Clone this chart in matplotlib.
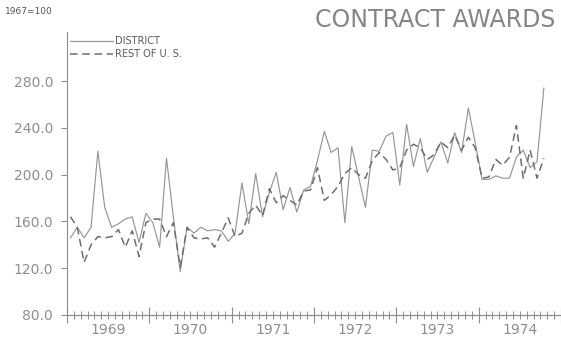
import numpy as np
import matplotlib
matplotlib.use('Agg')
import matplotlib.pyplot as plt

# monthly index values, 1967=100, January 1969 through October 1974
district = [
    146, 155, 146, 155, 220, 172, 155, 158, 162, 164, 142, 167,   # 1969
    159, 138, 214, 164, 117, 155, 150, 155, 152, 153, 152, 143,   # 1970
    150, 193, 158, 201, 164, 185, 202, 170, 189, 168, 187, 190,   # 1971
    212, 237, 219, 223, 159, 224, 198, 172, 221, 220, 233, 236,   # 1972
    191, 243, 207, 231, 202, 215, 228, 210, 236, 219, 257, 227,   # 1973
    196, 196, 199, 197, 197, 215, 221, 206, 211, 274,             # 1974
]
rest_of_us = [
    164, 155, 125, 140, 147, 146, 147, 153, 138, 152, 130, 159,   # 1969
    162, 162, 147, 159, 121, 155, 146, 145, 146, 138, 150, 163,   # 1970
    147, 150, 167, 174, 165, 188, 176, 182, 178, 174, 186, 187,   # 1971
    206, 178, 183, 190, 201, 206, 200, 197, 212, 219, 213, 204,   # 1972
    206, 221, 226, 223, 213, 217, 228, 223, 234, 221, 232, 223,   # 1973
    197, 198, 213, 208, 215, 242, 197, 221, 197, 214,             # 1974
]
years = [1969, 1970, 1971, 1972, 1973, 1974]
year_labels = ['1969', '1970', '1971', '1972', '1973', '1974']
y_ticks = [80, 120, 160, 200, 240, 280]

grey = '#8e8e8e'

# points sit in the middle of each month
t = years[0] + (np.arange(len(district)) + 0.5) / 12

fig = plt.figure(figsize=(5.61, 3.41), dpi=100)
ax = fig.add_axes([67 / 561, 26 / 341, 494 / 561, 283 / 341])

ax.plot(t, district, color='#969696', lw=0.85, label='DISTRICT')
ax.plot(t, rest_of_us, color='#6f6f6f', lw=1.1, dashes=(5, 3),
        label='REST OF U. S.')

ax.set_xlim(years[0], years[-1] + 1)
ax.set_ylim(80, 322)

for side in ['top', 'right']:
    ax.spines[side].set_visible(False)
for side in ['left', 'bottom']:
    ax.spines[side].set_color(grey)
    ax.spines[side].set_linewidth(0.8)

# y axis
ax.set_yticks(y_ticks)
ax.set_yticklabels(['%.1f' % v for v in y_ticks])
ax.tick_params(axis='y', direction='out', length=4, width=0.8,
               colors=grey, labelsize=10, pad=6)

# x axis: year names centred in each year, a cross tick for every month
ax.xaxis.remove_overlapping_locs = False
ax.set_xticks([y + 0.5 for y in years])
ax.set_xticklabels(year_labels)
ax.set_xticks(np.arange(years[0], years[-1] + 1 + 1e-9, 1 / 12), minor=True)
ax.tick_params(axis='x', which='major', length=0, colors=grey,
               labelsize=10, pad=6)
ax.tick_params(axis='x', which='minor', direction='inout', length=6,
               width=0.7, color=grey)

# longer ticks on the year boundaries
sec = ax.secondary_xaxis('bottom')
sec.set_xticks(years + [years[-1] + 1])
sec.tick_params(direction='inout', length=11, width=0.8, color=grey,
                labelbottom=False)
sec.spines['bottom'].set_color(grey)
sec.spines['bottom'].set_linewidth(0.8)

leg = ax.legend(loc='upper left', bbox_to_anchor=(70 / 561, 1 - 36 / 341),
                bbox_transform=fig.transFigure, frameon=False,
                borderpad=0, borderaxespad=0, handlelength=4.4,
                handletextpad=0.2, labelspacing=0.3, fontsize=7)
for txt in leg.get_texts():
    txt.set_color('#5a5a5a')

fig.text(555 / 561, 1 - 20 / 341, 'CONTRACT AWARDS', ha='right',
         va='center', fontsize=17, color='#858585')
fig.text(5 / 561, 1 - 12 / 341, '1967=100', ha='left', va='center',
         fontsize=6.5, color='#555555')

fig.savefig('out.png', dpi=100, facecolor='white')
